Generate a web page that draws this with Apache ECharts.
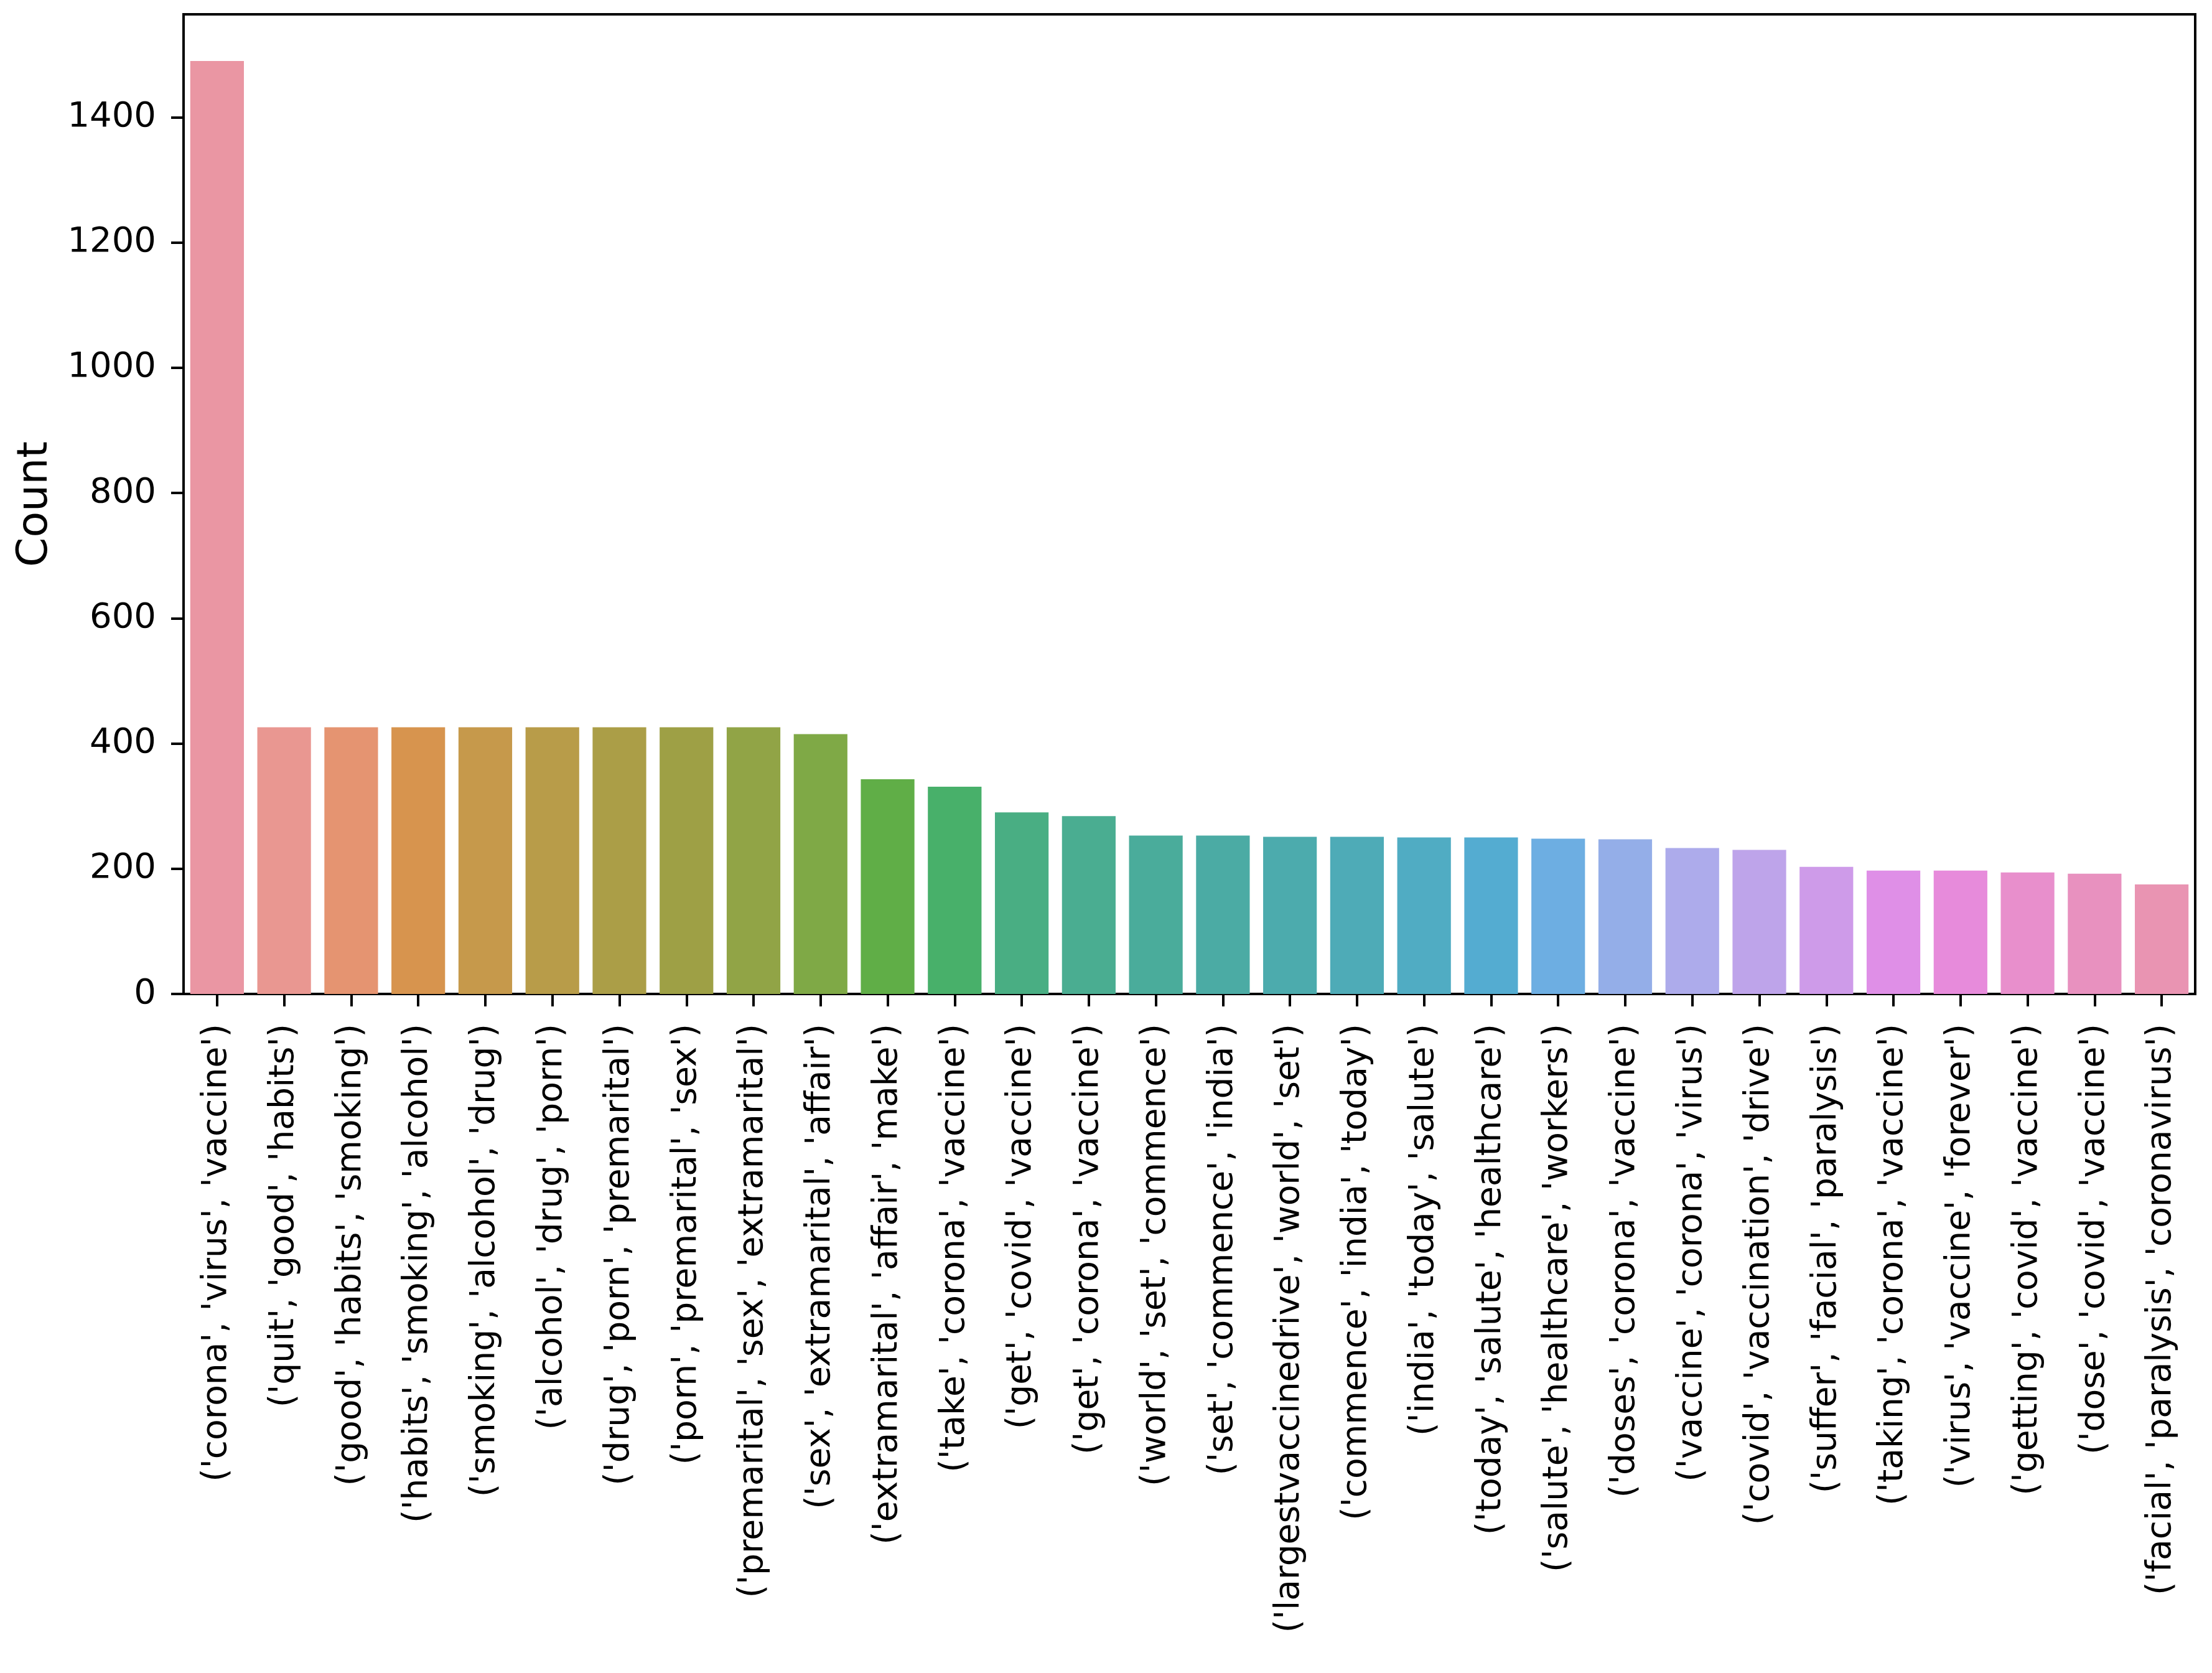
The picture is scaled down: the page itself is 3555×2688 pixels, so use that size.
<!DOCTYPE html>
<html><head><meta charset="utf-8">
<script src="https://cdn.jsdelivr.net/npm/echarts@6/dist/echarts.min.js"></script>
<style>html,body{margin:0;padding:0;background:#fff}#c{width:3555px;height:2688px}</style>
</head><body><div id="c"></div>
<script>
const categories = [
  "('corona', 'virus', 'vaccine')",
  "('quit', 'good', 'habits')",
  "('good', 'habits', 'smoking')",
  "('habits', 'smoking', 'alcohol')",
  "('smoking', 'alcohol', 'drug')",
  "('alcohol', 'drug', 'porn')",
  "('drug', 'porn', 'premarital')",
  "('porn', 'premarital', 'sex')",
  "('premarital', 'sex', 'extramarital')",
  "('sex', 'extramarital', 'affair')",
  "('extramarital', 'affair', 'make')",
  "('take', 'corona', 'vaccine')",
  "('get', 'covid', 'vaccine')",
  "('get', 'corona', 'vaccine')",
  "('world', 'set', 'commence')",
  "('set', 'commence', 'india')",
  "('largestvaccinedrive', 'world', 'set')",
  "('commence', 'india', 'today')",
  "('india', 'today', 'salute')",
  "('today', 'salute', 'healthcare')",
  "('salute', 'healthcare', 'workers')",
  "('doses', 'corona', 'vaccine')",
  "('vaccine', 'corona', 'virus')",
  "('covid', 'vaccination', 'drive')",
  "('suffer', 'facial', 'paralysis')",
  "('taking', 'corona', 'vaccine')",
  "('virus', 'vaccine', 'forever')",
  "('getting', 'covid', 'vaccine')",
  "('dose', 'covid', 'vaccine')",
  "('facial', 'paralysis', 'coronavirus')"
];
const counts = [1490, 426, 426, 426, 426, 426, 426, 426, 426, 415,
                343, 331, 290, 284, 253, 253, 251, 251, 250, 250,
                248, 247, 233, 230, 203, 197, 197, 194, 192, 175];
const yTicks = [0, 200, 400, 600, 800, 1000, 1200, 1400];
const yLabel = "Count";

// seaborn-like husl palette (styling only)
const M = [[3.2406,-1.5372,-0.4986],[-0.9689,1.8758,0.0415],[0.0557,-0.2040,1.0570]];
function maxChroma(L,H){
  const hr=H*Math.PI/180, sH=Math.sin(hr), cH=Math.cos(hr);
  const sub1=Math.pow(L+16,3)/1560896; const sub2=sub1>0.008856?sub1:L/903.3;
  let res=Infinity;
  for(const r of M){
    const m1=r[0],m2=r[1],m3=r[2];
    const top=(0.99915*m1+1.05122*m2+1.14460*m3)*sub2;
    const rb=0.86330*m3-0.17266*m2, lb=0.12949*m3-0.38848*m1;
    const bottom=(rb*sH+lb*cH)*sub2;
    for(const t of [0,1]){const C=L*(top-1.05122*t)/(bottom+0.17266*sH*t); if(C>0&&C<res)res=C;}
  }
  return res;
}
function huslToRgb(H,S,L){
  const C=maxChroma(L,H)/100*S;
  const hr=H*Math.PI/180, U=Math.cos(hr)*C, V=Math.sin(hr)*C;
  const refU=0.19784, refV=0.46834;
  const t=(L+16)/116; const Y=(t*t*t>0.008856)?t*t*t:(116*t-16)/903.3;
  const vU=U/(13*L)+refU, vV=V/(13*L)+refV;
  const X=0-(9*Y*vU)/((vU-4)*vV-vU*vV);
  const Z=(9*Y-(15*vV*Y)-(vV*X))/(3*vV);
  return M.map(r=>{let c=r[0]*X+r[1]*Y+r[2]*Z; c=c<=0.0031308?12.92*c:1.055*Math.pow(c,1/2.4)-0.055; return Math.min(1,Math.max(0,c));});
}
function rgbToHls(r,g,b){const mx=Math.max(r,g,b),mn=Math.min(r,g,b);const l=(mx+mn)/2;if(mx===mn)return[0,l,0];
  const d=mx-mn;const s=l<=0.5?d/(mx+mn):d/(2-mx-mn);const rc=(mx-r)/d,gc=(mx-g)/d,bc=(mx-b)/d;
  let h;if(r===mx)h=bc-gc;else if(g===mx)h=2+rc-bc;else h=4+gc-rc;h=((h/6)%1+1)%1;return[h,l,s];}
function v(m1,m2,h){h=((h%1)+1)%1;if(h<1/6)return m1+(m2-m1)*h*6;if(h<0.5)return m2;if(h<2/3)return m1+(m2-m1)*(2/3-h)*6;return m1;}
function hlsToRgb(h,l,s){if(s===0)return[l,l,l];const m2=l<=0.5?l*(1+s):l+s-l*s;const m1=2*l-m2;return[v(m1,m2,h+1/3),v(m1,m2,h),v(m1,m2,h-1/3)];}
function toHex(c){return '#'+c.map(x=>Math.round(x*255).toString(16).padStart(2,'0')).join('');}
const n=categories.length;
const colors=[];
for(let i=0;i<n;i++){
  let h=(i/n+0.01)%1*359;
  const rgb=huslToRgb(h,0.9*99,0.7*99);
  const hls=rgbToHls(rgb[0],rgb[1],rgb[2]);
  colors.push(toHex(hlsToRgb(hls[0],hls[1],hls[2]*0.75)));
}

const chart=echarts.init(document.getElementById('c'),null,{renderer:'canvas'});
const font="'DejaVu Sans', sans-serif";
chart.setOption({
  animation:false,
  backgroundColor:'#ffffff',
  grid:{left:295,right:27,top:23,bottom:1091,show:true,borderColor:'#000',borderWidth:4,backgroundColor:'transparent'},
  xAxis:{
    type:'category',data:categories,
    axisLine:{show:true,lineStyle:{color:'#000',width:4}},
    axisTick:{show:true,alignWithLabel:true,length:20,lineStyle:{color:'#000',width:4}},
    axisLabel:{interval:0,rotate:90,margin:48,color:'#000',fontSize:55,fontFamily:font},
    splitLine:{show:false}
  },
  yAxis:{
    type:'value',min:0,max:1564.5,
    name:yLabel,nameLocation:'middle',nameGap:204,
    nameTextStyle:{color:'#000',fontSize:68,fontFamily:font},
    axisLine:{show:true,lineStyle:{color:'#000',width:4}},
    axisTick:{show:true,length:20,lineStyle:{color:'#000',width:4},customValues:yTicks},
    axisLabel:{color:'#000',fontSize:56,fontFamily:font,margin:44,customValues:yTicks,formatter:function(val){return String(val);}},
    splitLine:{show:false}
  },
  series:[{
    type:'bar',barCategoryGap:'20%',
    data:counts.map((c,i)=>({value:c,itemStyle:{color:colors[i]}})),
    itemStyle:{borderWidth:0}
  }]
});
</script></body></html>
